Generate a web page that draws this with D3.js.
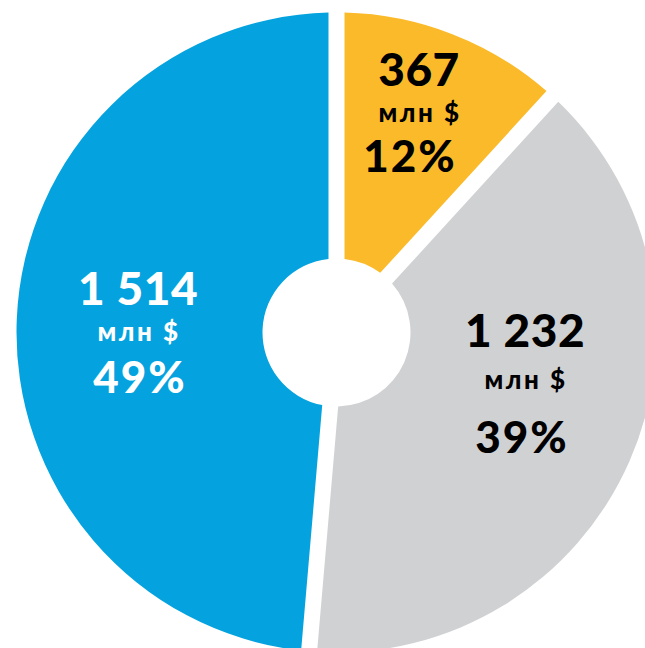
<!DOCTYPE html>
<html>
<head>
<meta charset="utf-8">
<script src="https://cdn.jsdelivr.net/npm/d3@7"></script>
<style>
  body { margin: 0; background: #fff; }
  text { font-family: Lato, "Open Sans", sans-serif; font-weight: 900; }
</style>
</head>
<body>
<div id="chart"></div>
<script>
(function () {

  // data
  const categories = ['yellow', 'gray', 'blue']
  const values = [367, 1232, 1514]
  const amountLabels = ['367', '1 232', '1 514']
  const unitLabels = ['млн $', 'млн $', 'млн $']
  const percentLabels = ['12%', '39%', '49%']

  const width = 645,
      height = 648

  // center and radii of the donut
  const cx = 336.5, cy = 332.5
  const outerR = 320, innerR = 74

  const colorScale = d3.scaleOrdinal()
    .domain(categories)
    .range(['#fbba2a', '#d0d1d3', '#04a3df'])

  const textColor = d3.scaleOrdinal()
    .domain(categories)
    .range(['#000', '#000', '#fff'])

  const svg = d3.select('#chart').append('svg')
    .attr('width', width)
    .attr('height', height)

  const g = svg.append('g')
    .attr('transform', 'translate(' + cx + ',' + cy + ')')

  const pie = d3.pie().sort(null).value(d => d.value)
  const arcs = pie(categories.map((c, i) => ({ key: c, value: values[i], i: i })))

  // gap between slices stays about 16px wide
  const arc = d3.arc()
    .innerRadius(innerR)
    .outerRadius(outerR)
    .padRadius(outerR)
    .padAngle(16 / outerR)

  g.selectAll('path')
    .data(arcs)
    .join('path')
    .attr('d', arc)
    .attr('fill', d => colorScale(d.data.key))

  // label layout: [x, baseline of first line], line offsets
  const labelPos = [[419, 86], [525, 347], [138, 305]]
  const lineOffsets = [[36, 86], [42, 106], [36, 88]]
  const pctShift = [-10, -4, 1]

  const labels = svg.selectAll('g.label')
    .data(arcs)
    .join('g')
    .attr('class', 'label')
    .attr('transform', d => 'translate(' + labelPos[d.data.i][0] + ',' + labelPos[d.data.i][1] + ')')
    .attr('fill', d => textColor(d.data.key))
    .attr('text-anchor', 'middle')

  labels.append('text')
    .attr('font-size', 46)
    .attr('letter-spacing', 0.5)
    .text(d => amountLabels[d.data.i])

  labels.append('text')
    .attr('y', d => lineOffsets[d.data.i][0])
    .attr('font-size', 26)
    .attr('letter-spacing', 2.5)
    .attr('x', 1)
    .text(d => unitLabels[d.data.i])

  labels.append('text')
    .attr('x', d => pctShift[d.data.i] + 1)
    .attr('y', d => lineOffsets[d.data.i][1])
    .attr('font-size', 44)
    .attr('letter-spacing', 2)
    .text(d => percentLabels[d.data.i])

})();
</script>
</body>
</html>
